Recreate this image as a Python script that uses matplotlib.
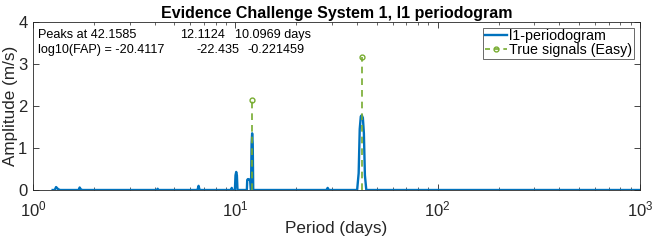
import matplotlib
matplotlib.use("Agg")
import matplotlib.pyplot as plt
from matplotlib.lines import Line2D
from matplotlib.ticker import LogLocator, NullFormatter

plt.rcParams['font.family'] = ['Liberation Sans', 'DejaVu Sans']

# l1-periodogram (period in days, amplitude in m/s)
period = [1.25, 1.28, 1.30, 1.33, 1.36, 1.68, 1.70, 1.72, 1.75,
          4.10, 4.13, 4.16, 6.50, 6.58, 6.66, 9.55, 9.60, 9.65,
          9.95, 10.02, 10.10, 10.18, 10.25, 11.40, 11.45, 11.55, 11.75, 11.85,
          11.95, 12.03, 12.11, 12.19, 12.26, 28.2, 28.6, 29.0,
          40.0, 40.7, 41.2, 41.7, 42.16, 42.7, 43.2, 43.7, 44.4, 1000.0]
amplitude = [0.0, 0.0, 0.07, 0.02, 0.0, 0.0, 0.06, 0.02, 0.0,
             0.0, 0.03, 0.0, 0.0, 0.10, 0.0, 0.0, 0.05, 0.0,
             0.0, 0.35, 0.43, 0.35, 0.0, 0.0, 0.24, 0.26, 0.25, 0.22,
             0.0, 1.10, 1.35, 1.10, 0.0, 0.0, 0.05, 0.0,
             0.0, 0.4, 1.45, 1.75, 1.78, 1.72, 1.35, 0.35, 0.0, 0.0]

# true signals (Easy)
true_period = [42.1585, 12.1124]
true_amp = [3.17, 2.15]

peaks_text = ["Peaks at 42.1585", "12.1124", "10.0969 days"]
fap_text = ["log10(FAP) = -20.4117", "-22.435", "-0.221459"]

blue = '#0072BD'
green = '#77AC30'
axc = '#262626'

fig = plt.figure(figsize=(6.54, 2.41), dpi=100)
ax = fig.add_axes([0.0505, 0.2116, 0.928, 0.697])

ax.plot(period, amplitude, color=blue, lw=1.7, zorder=3)
for p, a in zip(true_period, true_amp):
    ax.plot([p, p], [0, a], color=green, ls=(0, (4, 3)), lw=1.2, zorder=4)
    ax.plot([p], [a], marker='o', ms=3.5, mfc='none', mec=green, mew=1.0,
            ls='none', zorder=4)

ax.set_xscale('log')
ax.set_xlim(1, 1000)
ax.set_ylim(0, 4)
ax.set_yticks([0, 1, 2, 3, 4])
ax.xaxis.set_major_locator(LogLocator(base=10, numticks=10))
ax.xaxis.set_minor_locator(LogLocator(base=10, subs=range(2, 10), numticks=20))
ax.xaxis.set_minor_formatter(NullFormatter())

ax.tick_params(which='both', direction='in', top=True, right=True, colors=axc,
               labelsize=12, labelcolor=axc)
ax.tick_params(which='major', length=4, width=0.6)
ax.tick_params(which='minor', length=2.5, width=0.5)
ax.tick_params(axis='x', pad=7)
ax.tick_params(axis='y', pad=4)
for s in ax.spines.values():
    s.set_color(axc)
    s.set_linewidth(0.6)

ax.set_xlabel('Period (days)', fontsize=12.3, color=axc, labelpad=1)
ax.set_ylabel('Amplitude (m/s)', fontsize=12.3, color=axc, labelpad=0)
ax.set_title('Evidence Challenge System 1, l1 periodogram', fontsize=11.5,
             fontweight='bold', pad=3)

x_cols = [0.0082, 0.242, 0.333]
x_cols2 = [0.0082, 0.270, 0.354]
for s, xc in zip(peaks_text, x_cols):
    ax.text(xc, 0.958, s, transform=ax.transAxes, fontsize=9.1,
            va='top', ha='left', color='black')
for s, xc in zip(fap_text, x_cols2):
    ax.text(xc, 0.868, s, transform=ax.transAxes, fontsize=9.1,
            va='top', ha='left', color='black')

handles = [Line2D([], [], color=blue, lw=1.7),
           Line2D([], [], color=green, ls=(0, (3, 2.5)), lw=1.2, marker='o',
                  ms=3.5, mfc='none', mec=green, mew=1.0)]
leg = ax.legend(handles, ['l1-periodogram', 'True signals (Easy)'],
                loc='upper right', fontsize=10.3, frameon=True, fancybox=False,
                borderpad=0.12, handlelength=1.5, handletextpad=0.2,
                labelspacing=0.0, borderaxespad=0.4)
leg.get_frame().set_edgecolor(axc)
leg.get_frame().set_linewidth(0.6)

fig.savefig('out.png', dpi=100)
